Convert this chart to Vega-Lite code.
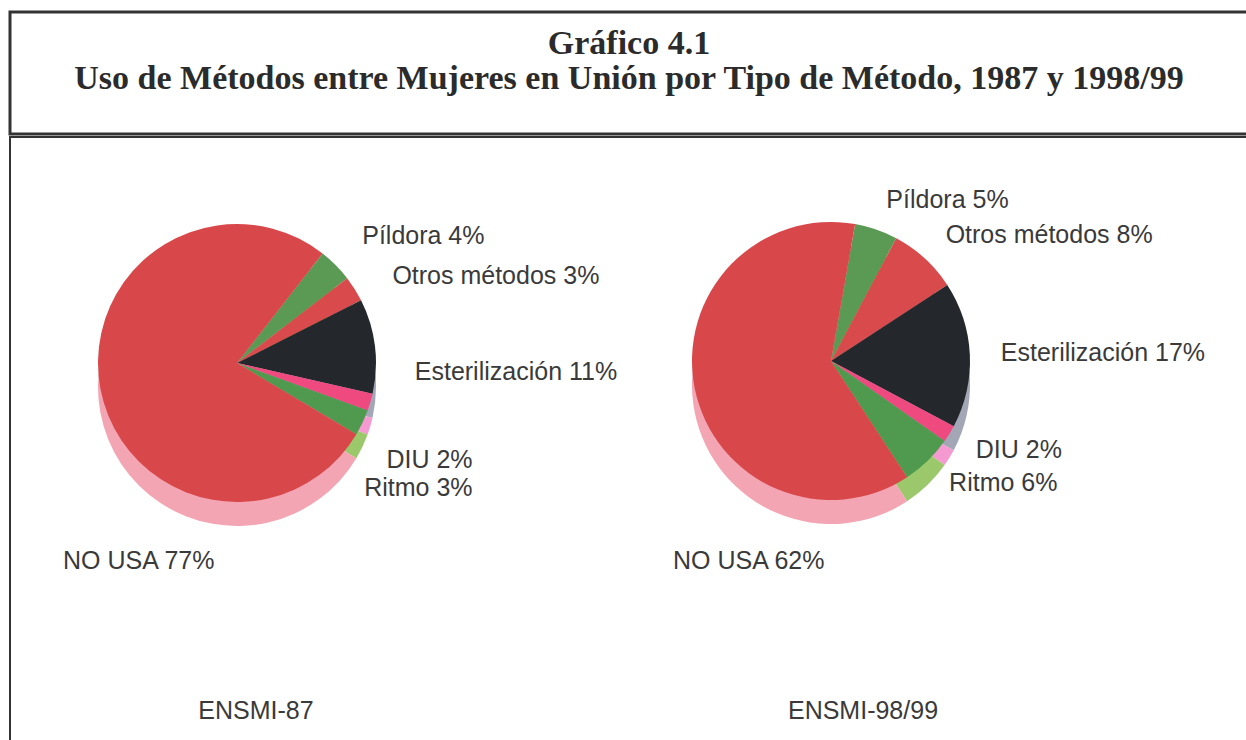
{
  "$schema": "https://vega.github.io/schema/vega-lite/v6.json",
  "padding": {"left": 8, "top": 10, "right": 0, "bottom": 0},
  "background": "white",
  "spacing": 0,
  "config": {"view": {"stroke": "#333333", "strokeWidth": 3}},
  "datasets": {
    "metodos": [
      {"encuesta": "ENSMI-87", "metodo": "Píldora", "pct": 4},
      {"encuesta": "ENSMI-87", "metodo": "Otros métodos", "pct": 3},
      {"encuesta": "ENSMI-87", "metodo": "Esterilización", "pct": 11},
      {"encuesta": "ENSMI-87", "metodo": "DIU", "pct": 2},
      {"encuesta": "ENSMI-87", "metodo": "Ritmo", "pct": 3},
      {"encuesta": "ENSMI-87", "metodo": "NO USA", "pct": 77},
      {"encuesta": "ENSMI-98/99", "metodo": "Píldora", "pct": 5},
      {"encuesta": "ENSMI-98/99", "metodo": "Otros métodos", "pct": 8},
      {"encuesta": "ENSMI-98/99", "metodo": "Esterilización", "pct": 17},
      {"encuesta": "ENSMI-98/99", "metodo": "DIU", "pct": 2},
      {"encuesta": "ENSMI-98/99", "metodo": "Ritmo", "pct": 6},
      {"encuesta": "ENSMI-98/99", "metodo": "NO USA", "pct": 62}
    ]
  },
  "vconcat": [
    {
      "width": 1300,
      "height": 122,
      "view": {"stroke": "#333333", "strokeWidth": 3},
      "data": {"values": [{"titulo": "Gráfico 4.1\nUso de Métodos entre Mujeres en Unión por Tipo de Método, 1987 y 1998/99"}]},
      "mark": {"type": "text", "font": "Liberation Serif", "fontWeight": "bold", "fontSize": 34, "lineBreak": "\n", "lineHeight": 35, "baseline": "middle", "dx": -31, "dy": -29, "color": "#2b2b2b"},
      "encoding": {"text": {"field": "titulo", "type": "nominal"}}
    },
    {
      "width": 1252,
      "height": 610,
      "view": {"stroke": "#333333", "strokeWidth": 2},
      "data": {"name": "metodos"},
      "transform": [
        {"calculate": "indexof(['Píldora','Otros métodos','Esterilización','DIU','Ritmo','NO USA'], datum.metodo)", "as": "orden"},
        {"calculate": "datum.metodo + ' ' + datum.pct + '%'", "as": "etiqueta"}
      ],
      "layer": [
        {
          "transform": [{"filter": "datum.encuesta == 'ENSMI-87'"}],
          "layer": [
            {
              "mark": {"type": "arc", "radius": 139, "yOffset": -55},
              "encoding": {
                "x": {"field": "encuesta", "type": "nominal", "scale": {"type": "point", "padding": 0, "domain": ["ENSMI-87", "ENSMI-98/99"], "range": [227, 821]}, "axis": null},
                "theta": {"field": "pct", "type": "quantitative", "stack": true, "scale": {"domain": [0, 100], "range": [0.6632, 6.9464]}},
                "order": {"field": "orden", "type": "quantitative"},
                "fill": {"field": "metodo", "type": "nominal", "legend": null, "scale": {"domain": ["Píldora", "Otros métodos", "Esterilización", "DIU", "Ritmo", "NO USA"], "range": ["#8fc26a", "#f0a0ab", "#a3a6b5", "#f49ad0", "#9ac86a", "#f3a5b3"]}}
              }
            },
            {
              "mark": {"type": "arc", "radius": 139, "yOffset": -79},
              "encoding": {
                "x": {"field": "encuesta", "type": "nominal", "scale": {"type": "point", "padding": 0, "domain": ["ENSMI-87", "ENSMI-98/99"], "range": [227, 821]}, "axis": null},
                "theta": {"field": "pct", "type": "quantitative", "stack": true, "scale": {"domain": [0, 100], "range": [0.6632, 6.9464]}},
                "order": {"field": "orden", "type": "quantitative"},
                "color": {"field": "metodo", "type": "nominal", "legend": null, "scale": {"domain": ["Píldora", "Otros métodos", "Esterilización", "DIU", "Ritmo", "NO USA"], "range": ["#5b9a55", "#d94a4c", "#24272b", "#ee4a80", "#4f9a4e", "#d8484b"]}}
              }
            },
            {
              "transform": [{"filter": "datum.metodo != 'NO USA'"}],
              "layer": [
                {
                  "mark": {"type": "text", "radius": 178, "yOffset": -79, "align": "left", "baseline": "middle", "font": "Liberation Sans", "fontSize": 25, "color": "#3a3a3a"},
                  "encoding": {
                    "x": {"field": "encuesta", "type": "nominal", "scale": {"type": "point", "padding": 0, "domain": ["ENSMI-87", "ENSMI-98/99"], "range": [227, 821]}, "axis": null},
                    "theta": {"field": "pct", "type": "quantitative", "stack": true, "scale": {"domain": [0, 100], "range": [0.6196, 8.648]}},
                    "order": {"field": "orden", "type": "quantitative"},
                    "detail": {"field": "metodo", "type": "nominal"},
                    "text": {"field": "etiqueta", "type": "nominal"}
                  }
                }
              ]
            },
            {
              "transform": [{"filter": "datum.metodo == 'NO USA'"}],
              "mark": {"type": "text", "dx": -174, "yOffset": 119, "align": "left", "baseline": "middle", "font": "Liberation Sans", "fontSize": 25, "color": "#3a3a3a"},
              "encoding": {
                "x": {"field": "encuesta", "type": "nominal", "scale": {"type": "point", "padding": 0, "domain": ["ENSMI-87", "ENSMI-98/99"], "range": [227, 821]}, "axis": null},
                "text": {"field": "etiqueta", "type": "nominal"}
              }
            },
            {
              "transform": [{"filter": "datum.metodo == 'NO USA'"}],
              "mark": {"type": "text", "dx": 19, "yOffset": 269, "align": "center", "baseline": "middle", "font": "Liberation Sans", "fontSize": 25, "color": "#3a3a3a"},
              "encoding": {
                "x": {"field": "encuesta", "type": "nominal", "scale": {"type": "point", "padding": 0, "domain": ["ENSMI-87", "ENSMI-98/99"], "range": [227, 821]}, "axis": null},
                "text": {"field": "encuesta", "type": "nominal"}
              }
            }
          ],
          "resolve": {"scale": {"theta": "independent"}}
        },
        {
          "transform": [{"filter": "datum.encuesta == 'ENSMI-98/99'"}],
          "layer": [
            {
              "mark": {"type": "arc", "radius": 139, "yOffset": -57},
              "encoding": {
                "x": {"field": "encuesta", "type": "nominal", "scale": {"type": "point", "padding": 0, "domain": ["ENSMI-87", "ENSMI-98/99"], "range": [227, 821]}, "axis": null},
                "theta": {"field": "pct", "type": "quantitative", "stack": true, "scale": {"domain": [0, 100], "range": [0.1745, 6.4577]}},
                "order": {"field": "orden", "type": "quantitative"},
                "fill": {"field": "metodo", "type": "nominal", "legend": null, "scale": {"domain": ["Píldora", "Otros métodos", "Esterilización", "DIU", "Ritmo", "NO USA"], "range": ["#8fc26a", "#f0a0ab", "#a3a6b5", "#f49ad0", "#9ac86a", "#f3a5b3"]}}
              }
            },
            {
              "mark": {"type": "arc", "radius": 139, "yOffset": -81},
              "encoding": {
                "x": {"field": "encuesta", "type": "nominal", "scale": {"type": "point", "padding": 0, "domain": ["ENSMI-87", "ENSMI-98/99"], "range": [227, 821]}, "axis": null},
                "theta": {"field": "pct", "type": "quantitative", "stack": true, "scale": {"domain": [0, 100], "range": [0.1745, 6.4577]}},
                "order": {"field": "orden", "type": "quantitative"},
                "color": {"field": "metodo", "type": "nominal", "legend": null, "scale": {"domain": ["Píldora", "Otros métodos", "Esterilización", "DIU", "Ritmo", "NO USA"], "range": ["#5b9a55", "#d94a4c", "#24272b", "#ee4a80", "#4f9a4e", "#d8484b"]}}
              }
            },
            {
              "transform": [{"filter": "datum.metodo != 'NO USA'"}],
              "mark": {"type": "text", "radius": 170, "yOffset": -81, "align": "left", "baseline": "middle", "font": "Liberation Sans", "fontSize": 25, "color": "#3a3a3a"},
              "encoding": {
                "x": {"field": "encuesta", "type": "nominal", "scale": {"type": "point", "padding": 0, "domain": ["ENSMI-87", "ENSMI-98/99"], "range": [227, 821]}, "axis": null},
                "theta": {"field": "pct", "type": "quantitative", "stack": true, "scale": {"domain": [0, 100], "range": [0.1745, 6.4577]}},
                "order": {"field": "orden", "type": "quantitative"},
                "detail": {"field": "metodo", "type": "nominal"},
                "text": {"field": "etiqueta", "type": "nominal"}
              }
            },
            {
              "transform": [{"filter": "datum.metodo == 'NO USA'"}],
              "mark": {"type": "text", "dx": -158, "yOffset": 119, "align": "left", "baseline": "middle", "font": "Liberation Sans", "fontSize": 25, "color": "#3a3a3a"},
              "encoding": {
                "x": {"field": "encuesta", "type": "nominal", "scale": {"type": "point", "padding": 0, "domain": ["ENSMI-87", "ENSMI-98/99"], "range": [227, 821]}, "axis": null},
                "text": {"field": "etiqueta", "type": "nominal"}
              }
            },
            {
              "transform": [{"filter": "datum.metodo == 'NO USA'"}],
              "mark": {"type": "text", "dx": 32, "yOffset": 269, "align": "center", "baseline": "middle", "font": "Liberation Sans", "fontSize": 25, "color": "#3a3a3a"},
              "encoding": {
                "x": {"field": "encuesta", "type": "nominal", "scale": {"type": "point", "padding": 0, "domain": ["ENSMI-87", "ENSMI-98/99"], "range": [227, 821]}, "axis": null},
                "text": {"field": "encuesta", "type": "nominal"}
              }
            }
          ]
        }
      ],
      "resolve": {"scale": {"theta": "independent"}}
    }
  ]
}
